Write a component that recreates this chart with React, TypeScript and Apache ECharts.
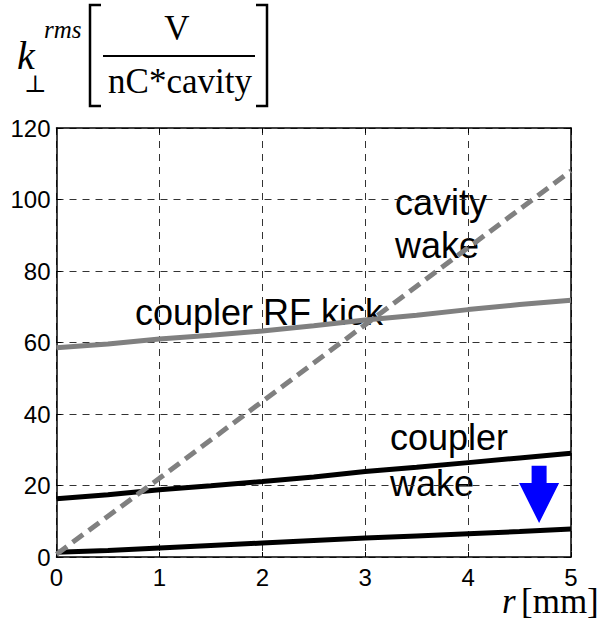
import React, { useEffect, useRef } from "react";
import * as echarts from "echarts";

const xValues = [0, 0.5, 1, 1.5, 2, 2.5, 3, 3.5, 4, 4.5, 5];
const couplerRfKick = [58.5, 59.6, 61, 62, 63.2, 64.7, 66.3, 67.6, 69.2, 70.6, 71.8];
const couplerWake = [16.3, 17.4, 18.8, 19.9, 21.1, 22.4, 23.9, 25.1, 26.4, 27.7, 29];
const lowerWake = [1.3, 1.8, 2.5, 3.2, 3.9, 4.6, 5.3, 5.9, 6.5, 7.1, 7.8];
const cavityX = [0, 1, 2, 3, 4, 5];
const cavityWake = [0.8, 22, 43.5, 65, 86.5, 108];
const arrow = [[4.69, 25.5, 20.7, 9.5]];
const xTicks = { min: 0, max: 5, interval: 1 };
const yTicks = { min: 0, max: 120, interval: 20 };

const SANS = "'Liberation Sans', Arial, sans-serif";
const SERIF = "'Liberation Serif', 'Times New Roman', serif";

export default function App() {
  const ref = useRef<HTMLDivElement>(null);
  useEffect(() => {
    if (!ref.current) return;
    const chart = echarts.init(ref.current, null, { renderer: "svg" });
    const pair = (xs: number[], ys: number[]) => xs.map((x, i) => [x, ys[i]]);
    const axisLine = { show: true, onZero: false, lineStyle: { color: "#000", width: 1.5 } };
    const tick = { show: true, inside: true, length: 5, lineStyle: { color: "#000", width: 1 } };
    const labelStyle = { color: "#000", fontFamily: SANS, fontSize: 24 };
    const annot = (text: string, x: number, baseline: number) => ({
      type: "text",
      x,
      y: baseline - 12.5,
      style: { text, fontFamily: SANS, fontSize: 36, fill: "#000", align: "left", verticalAlign: "middle" },
    });
    chart.setOption({
      animation: false,
      grid: { left: 56.5, right: 31, top: 128, bottom: 68, containLabel: false },
      xAxis: [
        {
          type: "value", ...xTicks, position: "bottom",
          axisLine, axisTick: tick,
          axisLabel: { ...labelStyle, margin: 9, lineHeight: 22 },
          splitLine: { show: true, lineStyle: { color: "#333", width: 1, type: [7, 6] } },
        },
        {
          type: "value", ...xTicks, position: "top",
          axisLine, axisTick: tick, axisLabel: { show: false }, splitLine: { show: false },
        },
      ],
      yAxis: [
        {
          type: "value", ...yTicks, position: "left",
          axisLine, axisTick: tick,
          axisLabel: { ...labelStyle, margin: 6 },
          splitLine: { show: true, lineStyle: { color: "#333", width: 1, type: [7, 6] } },
        },
        {
          type: "value", ...yTicks, position: "right",
          axisLine, axisTick: tick, axisLabel: { show: false }, splitLine: { show: false },
        },
      ],
      series: [
        {
          type: "line", name: "coupler RF kick", data: pair(xValues, couplerRfKick),
          showSymbol: false, symbol: "none", lineStyle: { color: "#808080", width: 5 }, z: 3,
        },
        {
          type: "line", name: "coupler wake", data: pair(xValues, couplerWake),
          showSymbol: false, symbol: "none", lineStyle: { color: "#000", width: 5 }, z: 3,
        },
        {
          type: "line", name: "lower", data: pair(xValues, lowerWake),
          showSymbol: false, symbol: "none", lineStyle: { color: "#000", width: 5 }, z: 3,
        },
        {
          type: "line", name: "cavity wake", data: pair(cavityX, cavityWake),
          showSymbol: false, symbol: "none",
          lineStyle: { color: "#808080", width: 5, type: [13, 7] }, z: 4,
        },
        {
          type: "custom", name: "arrow", data: arrow, z: 5,
          encode: { x: 0, y: 1 },
          renderItem: (params: any, api: any) => {
            const x = api.value(0);
            const pTop = api.coord([x, api.value(1)]);
            const pBase = api.coord([x, api.value(2)]);
            const pTip = api.coord([x, api.value(3)]);
            const cx = pTop[0];
            const sw = 7.5, hw = 20;
            return {
              type: "polygon",
              shape: {
                points: [
                  [cx - sw, pTop[1]], [cx + sw, pTop[1]], [cx + sw, pBase[1]], [cx + hw, pBase[1]],
                  [cx, pTip[1]], [cx - hw, pBase[1]], [cx - sw, pBase[1]],
                ],
              },
              style: { fill: "#0000ff" },
            };
          },
        },
      ],
      graphic: [
        annot("cavity", 395, 215),
        annot("wake", 395, 258),
        annot("coupler RF kick", 135, 325),
        annot("coupler", 390, 450),
        annot("wake", 390, 496),
        // title
        { type: "text", x: 17, y: 55, style: { text: "k", fontFamily: SERIF, fontStyle: "italic", fontSize: 40, fill: "#000", verticalAlign: "middle", lineHeight: 30 } },
        { type: "text", x: 44, y: 29, style: { text: "rms", fontFamily: SERIF, fontStyle: "italic", fontSize: 25, fill: "#000", verticalAlign: "middle" } },
        { type: "text", x: 24, y: 84, style: { text: "⊥", fontFamily: "'DejaVu Serif', serif", fontSize: 24, fill: "#000", verticalAlign: "middle", lineHeight: 18 } },
        { type: "polyline", shape: { points: [[101, 5], [90, 5], [90, 106], [101, 106]] }, style: { stroke: "#000", lineWidth: 2.5, fill: "none" } },
        { type: "polyline", shape: { points: [[256, 5], [267, 5], [267, 106], [256, 106]] }, style: { stroke: "#000", lineWidth: 2.5, fill: "none" } },
        { type: "text", x: 177, y: 40 - 11.8, style: { text: "V", fontFamily: SERIF, fontSize: 35, fill: "#000", align: "center", verticalAlign: "middle" } },
        { type: "line", shape: { x1: 103, y1: 56, x2: 255, y2: 56 }, style: { stroke: "#000", lineWidth: 2 } },
        { type: "text", x: 180, y: 93 - 11.8, style: { text: "nC*cavity", fontFamily: SERIF, fontSize: 35, fill: "#000", align: "center", verticalAlign: "middle" } },
        // x-axis name
        { type: "text", x: 502, y: 601, style: { text: "r", fontFamily: SERIF, fontStyle: "italic", fontSize: 35, fill: "#000", align: "left", verticalAlign: "middle", lineHeight: 26 } },
        { type: "text", x: 521, y: 601, style: { text: "[mm]", fontFamily: SERIF, fontSize: 35, fill: "#000", align: "left", verticalAlign: "middle", lineHeight: 26 } },
      ],
    });
    return () => chart.dispose();
  }, []);
  return <div ref={ref} style={{ position: "absolute", left: 0, top: 0, width: 602, height: 625 }} />;
}
